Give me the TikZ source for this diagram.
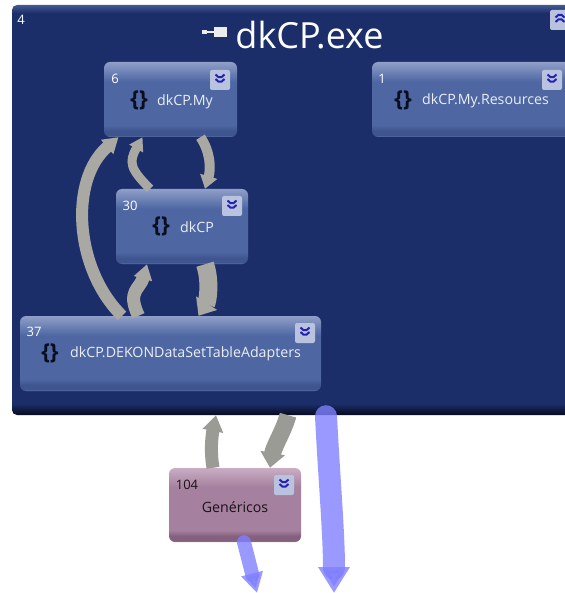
\documentclass[tikz,border=0pt]{standalone}
\usepackage{fontspec}
\setmainfont{Open Sans}
\usetikzlibrary{arrows.meta}
\definecolor{exebody}{HTML}{1B2E69}
\definecolor{exerim}{HTML}{425A92}
\definecolor{exeedge}{HTML}{070B1E}
\definecolor{nsbody}{HTML}{4E67A3}
\definecolor{nstop}{HTML}{8F9FC8}
\definecolor{nsdark}{HTML}{3F5590}
\definecolor{nsrim}{HTML}{6D80AA}
\definecolor{asmbody}{HTML}{A6809F}
\definecolor{asmtop}{HTML}{C9ADC3}
\definecolor{asmdark}{HTML}{84607F}
\definecolor{asmrim}{HTML}{9A7893}
\definecolor{flowgray}{HTML}{A9A8A3}
\definecolor{flowblue}{HTML}{8080FF}
\definecolor{btnfill}{HTML}{BAC3DE}
\definecolor{btnmark}{HTML}{2222B8}
\pgfdeclareverticalshading{exeshade}{100bp}{color(0bp)=(exeedge); color(25bp)=(exeedge); color(26.4bp)=(exebody); color(74bp)=(exebody); color(75bp)=(exerim); color(100bp)=(exerim)}
\pgfdeclareverticalshading{nsshade}{100bp}{color(0bp)=(nsrim); color(25bp)=(nsrim); color(26bp)=(nsdark); color(29bp)=(nsdark); color(33bp)=(nsbody); color(62bp)=(nsbody); color(75bp)=(nstop); color(100bp)=(nstop)}
\pgfdeclareverticalshading{asmshade}{100bp}{color(0bp)=(asmrim); color(25bp)=(asmrim); color(26bp)=(asmdark); color(29bp)=(asmdark); color(33bp)=(asmbody); color(62bp)=(asmbody); color(75bp)=(asmtop); color(100bp)=(asmtop)}
\tikzset{
  exebox/.style={minimum width=560pt, minimum height=410pt, inner sep=0pt, rounded corners=5pt, shading=exeshade},
  nsbox/.style={minimum width=#1, minimum height=75pt, inner sep=0pt, rounded corners=6pt, shading=nsshade},
  asmbox/.style={minimum width=132pt, minimum height=74pt, inner sep=0pt, rounded corners=6pt, shading=asmshade},
  chevbtn/.style={minimum size=20pt, inner sep=0pt, rounded corners=2pt, fill=btnfill,
    path picture={
      \foreach \dy in {-4,0.5}
        \draw[btnmark, line width=2pt] ([shift={(-4.5,\dy-#1*1.5)}]path picture bounding box.center)
          -- ++(4.5,#1*4) -- ++(4.5,-#1*4);
    }},
  numlabel/.style={text=white, font=\fontsize{13}{15}\selectfont},
  nslabel/.style={text=white!88!nsbody, font=\fontsize{14.2}{16}\selectfont},
  bracelabel/.style={text=black!70!exebody, font=\fontsize{22}{24}\selectfont\bfseries},
  grayflow/.style={draw=flowgray, line width=#1},
  blueflow/.style={draw=flowblue, opacity=0.8, line width=#1}
}
\begin{document}
\begin{tikzpicture}[x=1pt,y=-1pt]
\useasboundingbox (0,0) rectangle (564,593);
% outer box
\node[exebox] (exe) at (292,210) {};
% inner boxes
\node[nsbox=133pt] (nsMy) at (170.5,99.5) {};
\node[nsbox=132pt] (nsRoot) at (182,226.5) {};
\node[nsbox=200pt] (nsRes) at (472,99.5) {};
\node[nsbox=301pt] (nsAdapt) at (170.5,353.5) {};
\node[asmbox] (asmGen) at (235,505) {};
% buttons
\foreach \name/\x/\y in {btnMy/220/80, btnRoot/232/206, btnRes/552/80, btnAdapt/305/333, btnGen/284/485}
  \node[chevbtn=1] (\name) at (\x,\y) {};
\node[chevbtn=-1] (btnExe) at (560,20) {};
% numbers
\node[numlabel] (numExe) at (21,20) {4};
\node[numlabel] (numMy) at (115,79) {6};
\node[numlabel] (numRoot) at (130,206) {30};
\node[numlabel] (numRes) at (382,79) {1};
\node[numlabel] (numAdapt) at (34,332) {37};
\node[numlabel, text=black!85!asmbody] (numGen) at (187,485) {104};
% names
\node[text=white, font=\fontsize{36}{40}\selectfont] (exeName) at (309.5,35) {dkCP.exe};
\node[bracelabel] (braceMy) at (139,100) {\{\}};
\node[nslabel] (nameMy) at (185,102) {dkCP.My};
\node[bracelabel] (braceRoot) at (161,226) {\{\}};
\node[nslabel] (nameRoot) at (197,227) {dkCP};
\node[bracelabel] (braceRes) at (403,100) {\{\}};
\node[nslabel] (nameRes) at (485.5,101) {dkCP.My.Resources};
\node[bracelabel] (braceAdapt) at (50,353) {\{\}};
\node[nslabel] (nameAdapt) at (185.5,354) {dkCP.DEKONDataSetTableAdapters};
\node[nslabel, text=black!85!asmbody] (nameGen) at (235,507) {Genéricos};
% exe icon
\fill[white!85!gray] (214,27) rectangle (227,37);
\fill[white!85!gray] (207,31) rectangle (214,33);
\fill[white!85!gray] (202,30) rectangle (207,34);
% gray arrows inside
\draw[grayflow=12pt, -{Triangle[length=15pt,width=18pt]}] ([xshift=-48.5]nsAdapt.north)
  .. controls +(-47,-46) and +(-50,43) .. ([xshift=-52]nsMy.south);
\draw[grayflow=9pt, -{Triangle[length=13pt,width=15pt]}] ([xshift=-32]nsRoot.north)
  .. controls +(-20,-20) and +(-14,25) .. ([xshift=-28]nsMy.south);
\draw[grayflow=10pt, -{Triangle[length=13pt,width=17pt]}] ([xshift=30]nsMy.south)
  .. controls +(10,15) and +(6,-20) .. ([xshift=23]nsRoot.north);
\draw[grayflow=13pt, -{Triangle[length=15pt,width=18pt]}] ([xshift=-32]nsAdapt.north)
  .. controls +(-12,-25) and +(-7,25) .. ([xshift=-35]nsRoot.south);
\draw[grayflow=18pt, -{Triangle[length=15pt,width=24pt]}] ([xshift=23]nsRoot.south)
  .. controls +(6,18) and +(9,-14) .. ([xshift=28]nsAdapt.north);
% gray arrows outside
\draw[grayflow=13pt, draw=flowgray!92!black, -{Triangle[length=16pt,width=20pt]}] ([xshift=-22]asmGen.north)
  .. controls +(-3,-18) and +(-4,20) .. ([xshift=-76]exe.south);
\draw[grayflow=17pt, draw=flowgray!92!black, -{Triangle[length=15pt,width=24pt]}] ([xshift=-4]exe.south)
  .. controls +(-4,15) and +(4,-22) .. ([xshift=35]asmGen.north);
% blue arrows
\coordinate (outLong) at (334,593);
\coordinate (outShort) at (257,593);
\draw[blueflow=22pt, line cap=round, -{Triangle[length=26pt,width=30pt]}] ([shift={(34,1)}]exe.south)
  .. controls +(3,60) and +(0,-60) .. (outLong);
\draw[blueflow=14pt, line cap=round, -{Triangle[length=20pt,width=21pt]}] ([xshift=9]asmGen.south) -- (outShort);
\end{tikzpicture}
\end{document}
